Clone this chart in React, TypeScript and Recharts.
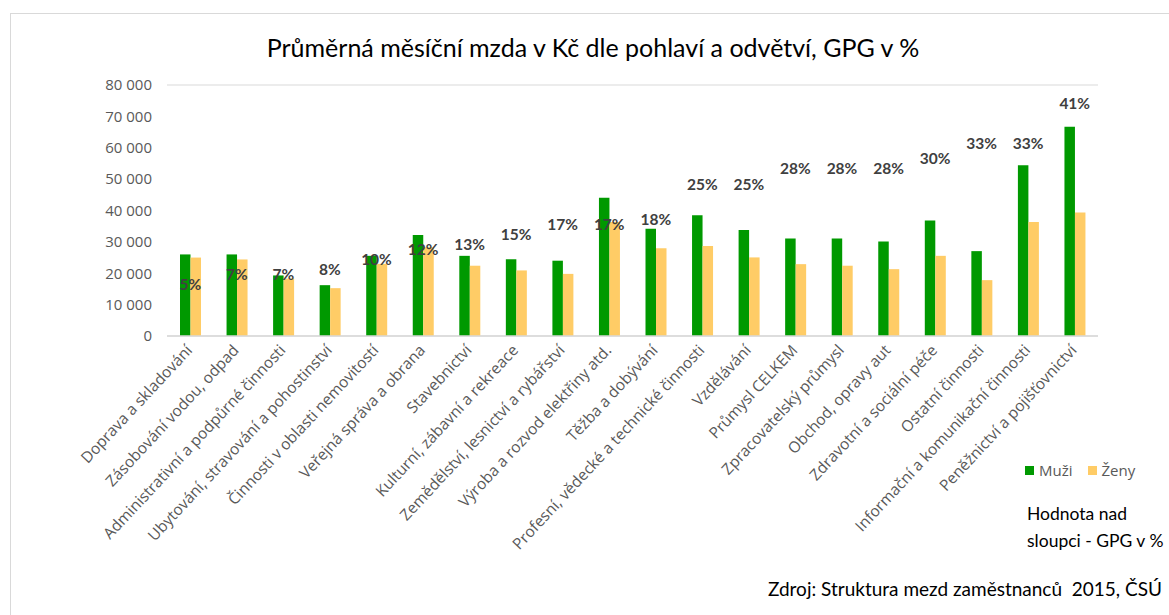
import React from 'react';
import {
    BarChart,
    Bar,
    Line,
    XAxis,
    YAxis,
    CartesianGrid,
    LabelList,
} from 'recharts';

const categories = [
    'Doprava a skladování',
    'Zásobování vodou, odpad',
    'Administrativní a podpůrné činnosti',
    'Ubytování, stravování a pohostinství',
    'Činnosti v oblasti nemovitostí',
    'Veřejná správa a obrana',
    'Stavebnictví',
    'Kulturní, zábavní a rekreace',
    'Zemědělství, lesnictví a rybářství',
    'Výroba a rozvod elektřiny atd.',
    'Těžba a dobývání',
    'Profesní, vědecké a technické činnosti',
    'Vzdělávání',
    'Průmysl CELKEM',
    'Zpracovatelský průmysl',
    'Obchod, opravy aut',
    'Zdravotní a sociální péče',
    'Ostatní činnosti',
    'Informační a komunikační činnosti',
    'Peněžnictví a pojišťovnictví',
];

const muzi = [26000, 26000, 19300, 16200, 25550, 32200, 25550, 24500, 24000, 44100, 34200, 38450, 33750, 31100, 31100, 30150, 36850, 27050, 54450, 66700];
const zeny = [25000, 24400, 18300, 15250, 23000, 28300, 22400, 20900, 19800, 36300, 28000, 28650, 25050, 22900, 22400, 21300, 25550, 17800, 36300, 39400];
const gpg = [5, 7, 7, 8, 10, 12, 13, 15, 17, 17, 18, 25, 25, 28, 28, 28, 30, 33, 33, 41];

const yTicks = [0, 10000, 20000, 30000, 40000, 50000, 60000, 70000, 80000];

const GREEN = '#009900';
const YELLOW = '#FFCC66';
const FONT = 'Lato, "Open Sans", sans-serif';
const AXIS_FONT = '"Open Sans", sans-serif';

const data = categories.map((name, i) => ({
    name,
    muzi: muzi[i],
    zeny: zeny[i],
    gpg: gpg[i],
}));

const formatThousands = (v: number) => v.toString().replace(/\B(?=(\d{3})+(?!\d))/g, ' ');

const CategoryTick = (props: any) => {
    const { x, y, payload } = props;
    const tx = x + 3;
    const ty = y + 15;
    return (
        <text
            x={tx}
            y={ty}
            transform={`rotate(-47 ${tx} ${ty})`}
            textAnchor="end"
            fill="#595959"
            fontSize={15.5}
            fontFamily={AXIS_FONT}
        >
            {payload.value}
        </text>
    );
};

const GpgLabel = (props: any) => {
    const { x, y, value } = props;
    return (
        <text
            x={x}
            y={y - 26}
            dy={5}
            textAnchor="middle"
            fill="#404040"
            fontSize={15.5}
            fontWeight={700}
            fontFamily={FONT}
        >
            {`${value}%`}
        </text>
    );
};

export default function App() {
    return (
        <div style={{ position: 'relative', width: 1169, height: 615, overflow: 'hidden', background: '#fff' }}>
            <style>{'body{margin:0}'}</style>
            <div
                style={{
                    position: 'absolute',
                    left: 10,
                    top: 13,
                    width: 1300,
                    height: 800,
                    border: '1px solid #D9D9D9',
                }}
            />
            <div
                style={{
                    position: 'absolute',
                    left: 0,
                    width: 1186,
                    top: 32,
                    textAlign: 'center',
                    fontFamily: FONT,
                    fontSize: 25,
                    color: '#000',
                }}
            >
                Průměrná měsíční mzda v Kč dle pohlaví a odvětví, GPG v %
            </div>
            <div style={{ position: 'absolute', left: 0, top: 0 }}>
                <BarChart
                    width={1169}
                    height={615}
                    data={data}
                    margin={{ top: 85, right: 71, bottom: 9, left: 107 }}
                    barGap={0}
                >
                    <CartesianGrid vertical={false} stroke="#D9D9D9" />
                    <XAxis
                        dataKey="name"
                        interval={0}
                        height={270}
                        tick={<CategoryTick />}
                        tickLine={false}
                        tickSize={0}
                        tickMargin={0}
                        axisLine={{ stroke: '#D9D9D9', strokeWidth: 1.5 }}
                    />
                    <YAxis
                        yAxisId="mzda"
                        width={60}
                        domain={[0, 80000]}
                        ticks={yTicks}
                        tickFormatter={formatThousands}
                        axisLine={false}
                        tickLine={false}
                        tickSize={0}
                        tickMargin={15}
                        tick={{ fill: '#595959', fontSize: 15, fontFamily: AXIS_FONT }}
                    />
                    <YAxis yAxisId="gpg" orientation="right" hide domain={[0, 50]} />
                    <Bar yAxisId="mzda" dataKey="muzi" name="Muži" fill={GREEN} barSize={10.5} isAnimationActive={false} />
                    <Bar yAxisId="mzda" dataKey="zeny" name="Ženy" fill={YELLOW} barSize={10.5} isAnimationActive={false} />
                    <Line
                        yAxisId="gpg"
                        dataKey="gpg"
                        stroke="none"
                        dot={false}
                        activeDot={false}
                        legendType="none"
                        isAnimationActive={false}
                    >
                        <LabelList dataKey="gpg" content={<GpgLabel />} />
                    </Line>
                </BarChart>
            </div>
            <div
                style={{
                    position: 'absolute',
                    left: 1025,
                    top: 460,
                    display: 'flex',
                    alignItems: 'center',
                    fontFamily: AXIS_FONT,
                    fontSize: 15,
                    color: '#595959',
                }}
            >
                <span style={{ width: 9, height: 9, background: GREEN, display: 'inline-block', marginRight: 5 }} />
                <span style={{ marginRight: 15 }}>Muži</span>
                <span style={{ width: 9, height: 9, background: YELLOW, display: 'inline-block', marginRight: 5 }} />
                <span>Ženy</span>
            </div>
            <div
                style={{
                    position: 'absolute',
                    left: 1027,
                    top: 500,
                    fontFamily: FONT,
                    fontSize: 17.5,
                    lineHeight: '27px',
                    color: '#000',
                }}
            >
                Hodnota nad
                <br />
                sloupci - GPG v %
            </div>
            <div
                style={{
                    position: 'absolute',
                    right: 7,
                    top: 577,
                    fontFamily: FONT,
                    fontSize: 19,
                    color: '#000',
                    whiteSpace: 'pre',
                }}
            >
                {'Zdroj: Struktura mezd zaměstnanců  2015, ČSÚ'}
            </div>
        </div>
    );
}
